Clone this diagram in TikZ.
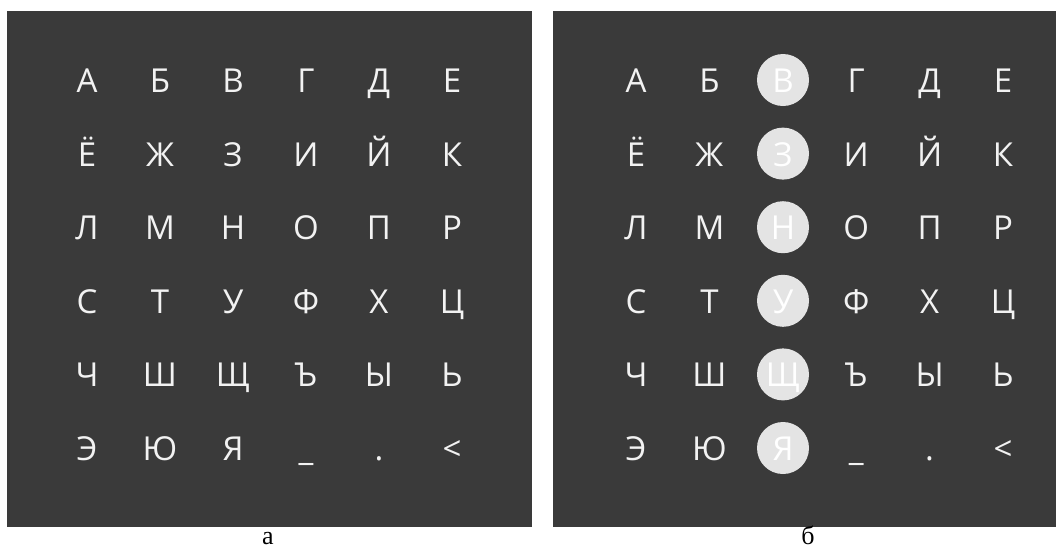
\documentclass[tikz,border=0pt]{standalone}
\usepackage{fontspec}
\setmainfont{Open Sans}
\newfontfamily\labfont{Liberation Serif}
\definecolor{panelgray}{HTML}{3A3A3A}
\definecolor{lettergray}{HTML}{F2F2F2}
\definecolor{circlegray}{HTML}{E4E4E4}
\tikzset{
  panelbox/.style={fill=panelgray},
  letter/.style={text=lettergray, font=\fontsize{33}{33}\selectfont, anchor=base, inner sep=0pt},
  hilite/.style={circle, fill=circlegray, minimum size=52pt, inner sep=0pt},
  hiletter/.style={letter, text=white},
  sublabel/.style={font=\labfont\fontsize{26}{26}\selectfont, anchor=base, inner sep=0pt, text=black}
}
\begin{document}
\begin{tikzpicture}[x=1pt,y=-1pt]
\useasboundingbox (0,0) rectangle (1056,550);
\fill[panelbox] (7,11) rectangle (532,527);
\fill[panelbox] (553,11) rectangle (1056,527);
\foreach \row [count=\r] in {{А,Б,В,Г,Д,Е},{Ё,Ж,З,И,Й,К},{Л,М,Н,О,П,Р},{С,Т,У,Ф,Х,Ц},{Ч,Ш,Щ,Ъ,Ы,Ь},{Э,Ю,Я,\_,.,<}}{
  \pgfmathsetmacro{\yc}{80+73.6*(\r-1)}
  \pgfmathsetmacro{\yb}{\yc+12.5}
  \foreach \ch [count=\c] in \row {
    \pgfmathsetmacro{\xl}{87+73*(\c-1)}
    \pgfmathsetmacro{\xr}{636+73.4*(\c-1)}
    \node[letter] (L\r\c) at (\xl,\yb) {\ch};
    \ifnum\c=3
      \node[hilite] (C\r) at (783,\yc) {};
      \node[hiletter] (R\r\c) at (783,\yb) {\ch};
    \else
      \node[letter] (R\r\c) at (\xr,\yb) {\ch};
    \fi
  }
}
\node[sublabel] (la) at (268,544) {а};
\node[sublabel] (lb) at (808,544) {б};
\end{tikzpicture}
\end{document}
